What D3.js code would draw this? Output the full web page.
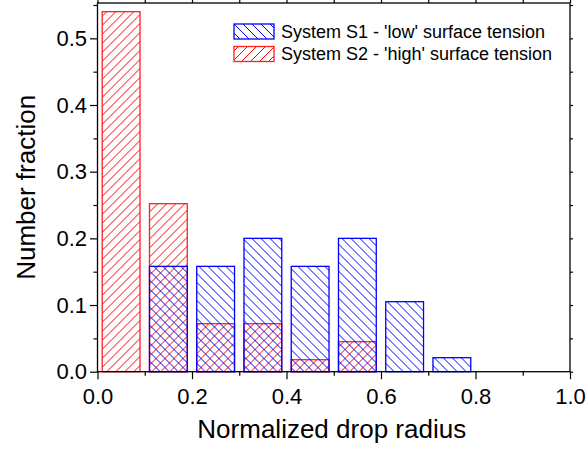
<!DOCTYPE html>
<html>
<head>
<meta charset="utf-8">
<script src="https://cdn.jsdelivr.net/npm/d3@7"></script>
<style>
  body { margin: 0; background: #fff; }
  svg { display: block; font-family: "Liberation Sans", Arial, sans-serif; }
</style>
</head>
<body>
<div id="canvas"></div>
<script>
"use strict";

// bins of normalized drop radius (start of each 0.1 bin)
let binStarts = [0.0, 0.1, 0.2, 0.3, 0.4, 0.5, 0.6, 0.7];
// number fraction per bin
let s1Values = [0, 0.158, 0.158, 0.2, 0.158, 0.2, 0.105, 0.021];   // low surface tension
let s2Values = [0.54, 0.252, 0.072, 0.072, 0.018, 0.045, 0, 0];    // high surface tension
let seriesNames = ["System S1 - 'low' surface tension", "System S2 - 'high' surface tension"];
let xTicks = [0, 0.2, 0.4, 0.6, 0.8, 1.0];
let yTicks = [0, 0.1, 0.2, 0.3, 0.4, 0.5];

const svgWidth = 588, svgHeight = 449;
const margin = { left: 97.5, right: 18, top: 3, bottom: 77.3 };
const innerWidth = svgWidth - margin.left - margin.right;
const innerHeight = svgHeight - margin.top - margin.bottom;

const svg = d3.select("#canvas").append("svg")
  .attr("width", svgWidth)
  .attr("height", svgHeight);

// hatch patterns
const defs = svg.append("defs");
const step = 9;
defs.append("pattern")
  .attr("id", "hatchBlue")
  .attr("patternUnits", "userSpaceOnUse")
  .attr("width", step).attr("height", step)
  .append("path")
  .attr("d", `M0,0L${step},${step}M${-step / 4},${step * 3 / 4}L${step / 4},${step * 5 / 4}M${step * 3 / 4},${-step / 4}L${step * 5 / 4},${step / 4}`)
  .attr("stroke", "#0000ff").attr("stroke-width", 1);
defs.append("pattern")
  .attr("id", "hatchRed")
  .attr("patternUnits", "userSpaceOnUse")
  .attr("width", step).attr("height", step)
  .append("path")
  .attr("d", `M0,${step}L${step},0M${-step / 4},${step / 4}L${step / 4},${-step / 4}M${step * 3 / 4},${step * 5 / 4}L${step * 5 / 4},${step * 3 / 4}`)
  .attr("stroke", "#ff0000").attr("stroke-width", 1);

const g = svg.append("g").attr("transform", `translate(${margin.left},${margin.top})`);

const x = d3.scaleLinear().domain([0, 1]).range([0, innerWidth]);
const y = d3.scaleLinear().domain([0, 0.553]).range([innerHeight, 0]);

// bars
function drawBars(values, fill, stroke) {
  const data = binStarts.map((b, i) => ({ b, v: values[i] })).filter(d => d.v > 0);
  g.append("g").selectAll("rect")
    .data(data)
    .enter().append("rect")
    .attr("x", d => x(d.b + 0.01))
    .attr("width", d => x(d.b + 0.09) - x(d.b + 0.01))
    .attr("y", d => y(d.v))
    .attr("height", d => y(0) - y(d.v))
    .attr("fill", fill)
    .attr("stroke", stroke)
    .attr("stroke-width", 1.3);
}
drawBars(s2Values, "url(#hatchRed)", "#ff2020");
drawBars(s1Values, "url(#hatchBlue)", "#0000ff");

// axes
const minorX = [0.1, 0.3, 0.5, 0.7, 0.9];
const minorY = [0.05, 0.15, 0.25, 0.35, 0.45, 0.55];

function styleAxis(sel) {
  sel.select(".domain").remove();
  sel.selectAll("line").attr("stroke", "#000").attr("stroke-width", 1.2);
  sel.selectAll("text").attr("font-size", "22px").attr("fill", "#000")
    .attr("font-family", "'Liberation Sans', Arial, sans-serif");
}
// tick-only axes: no labels
function ticksOnly(sel) {
  styleAxis(sel);
  sel.selectAll("text").remove();
}

g.append("g").attr("transform", `translate(0,${innerHeight})`)
  .call(d3.axisBottom(x).tickValues(xTicks).tickSize(7.5).tickPadding(9).tickFormat(d3.format(".1f")))
  .call(styleAxis);
g.append("g").attr("transform", `translate(0,${innerHeight})`)
  .call(d3.axisBottom(x).tickValues(minorX).tickSize(4))
  .call(ticksOnly);
g.append("g")
  .call(d3.axisTop(x).tickValues(xTicks.concat(minorX)).tickSize(3))
  .call(ticksOnly);

g.append("g")
  .call(d3.axisLeft(y).tickValues(yTicks).tickSize(7.5).tickPadding(3).tickFormat(d3.format(".1f")))
  .call(styleAxis);
g.append("g")
  .call(d3.axisLeft(y).tickValues(minorY).tickSize(4))
  .call(ticksOnly);
g.append("g").attr("transform", `translate(${innerWidth},0)`)
  .call(d3.axisRight(y).tickValues(yTicks.concat(minorY)).tickSize(3))
  .call(ticksOnly);

// frame
g.append("rect")
  .attr("width", innerWidth).attr("height", innerHeight)
  .attr("fill", "none").attr("stroke", "#000").attr("stroke-width", 1.3);

// axis titles
svg.append("text")
  .attr("x", margin.left + innerWidth / 2 - 2)
  .attr("y", 437.5)
  .attr("text-anchor", "middle")
  .attr("font-size", "26px")
  .text("Normalized drop radius");

svg.append("text")
  .attr("transform", `translate(35,${margin.top + innerHeight / 2}) rotate(-90)`)
  .attr("text-anchor", "middle")
  .attr("font-size", "26px")
  .text("Number fraction");

// legend
const legend = svg.append("g").attr("transform", "translate(234,24)");
const fills = ["url(#hatchBlue)", "url(#hatchRed)"];
const strokes = ["#0000ff", "#ff2020"];
seriesNames.forEach((name, i) => {
  legend.append("rect")
    .attr("x", 0).attr("y", i * 22.5)
    .attr("width", 40).attr("height", 15)
    .attr("fill", fills[i]).attr("stroke", strokes[i]).attr("stroke-width", 1.3);
  legend.append("text")
    .attr("x", 47).attr("y", i * 22.5 + 13.5)
    .attr("font-size", "18px")
    .text(name);
});
</script>
</body>
</html>
